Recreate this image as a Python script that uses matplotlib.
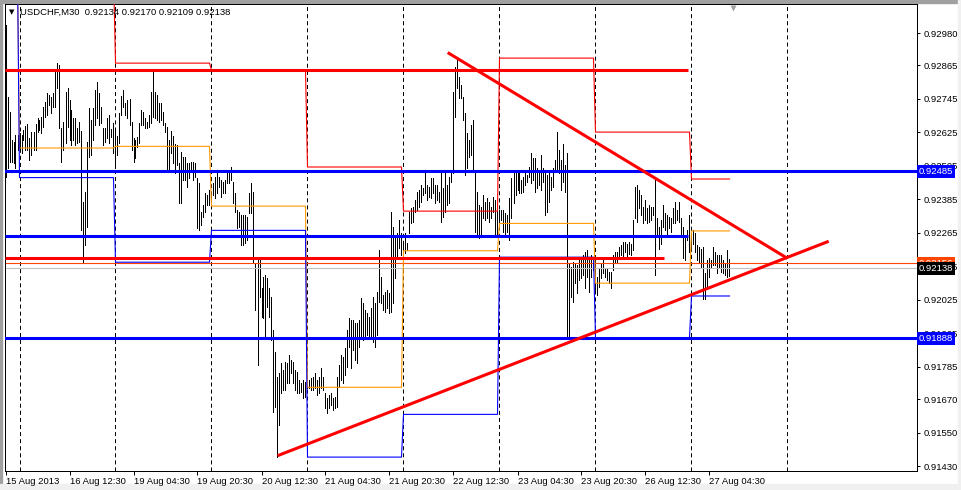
import numpy as np
import pandas as pd
import matplotlib
matplotlib.use("Agg")
from matplotlib import pyplot as plt
from matplotlib.patches import Rectangle

plt.rcParams['font.family'] = ['Liberation Sans', 'DejaVu Sans']
plt.rcParams['lines.scale_dashes'] = False

symbol = "USDCHF,M30"
last_ohlc = [0.92134, 0.92170, 0.92109, 0.92138]

# trading days shown and number of M30 bars in each
day_dates = ["2013-08-15", "2013-08-16", "2013-08-19", "2013-08-20", "2013-08-21",
             "2013-08-22", "2013-08-23", "2013-08-26", "2013-08-27"]
bars_per_day = [7, 48, 48, 48, 48, 48, 48, 48, 20]
first_bar = "2013-08-15 20:30"

# bar highs / lows in points (1e-5)
highs_pts = [
    93010, 92753, 92699, 92598, 92592, 92616, 92616, 92622, 92616, 92633,
    92648, 92655, 92604, 92627, 92627, 92655, 92675, 92669, 92681, 92717,
    92735, 92765, 92759, 92753, 92765, 92842, 92872, 92866, 92639, 92663,
    92771, 92783, 92741, 92705, 92675, 92675, 92639, 92663, 92630, 92377,
    92413, 92592, 92711, 92669, 92711, 92777, 92807, 92765, 92717, 92639,
    92639, 92675, 92687, 92636, 92657, 92633, 92612, 92693, 92755, 92777,
    92729, 92741, 92743, 92663, 92604, 92598, 92610, 92660, 92705, 92699,
    92675, 92663, 92687, 92771, 92842, 92771, 92759, 92729, 92729, 92699,
    92657, 92645, 92598, 92631, 92612, 92583, 92580, 92514, 92556, 92538,
    92538, 92514, 92514, 92520, 92520, 92514, 92461, 92443, 92341, 92365,
    92407, 92401, 92419, 92413, 92443, 92466, 92478, 92466, 92455, 92449,
    92455, 92478, 92490, 92502, 92449, 92407, 92347, 92341, 92329, 92329,
    92329, 92323, 92407, 92443, 92413, 92156, 92174, 92174, 92067, 92108,
    92114, 92102, 92067, 92037, 91917, 91840, 91750, 91762, 91798, 91774,
    91804, 91798, 91828, 91810, 91804, 91774, 91768, 91738, 91726, 91738,
    91732, 91750, 91738, 91744, 91750, 91762, 91738, 91750, 91780, 91750,
    91690, 91672, 91684, 91690, 91672, 91678, 91750, 91792, 91828, 91822,
    91852, 91917, 91959, 91953, 91953, 91941, 91941, 91953, 92031, 92013,
    91989, 91977, 91965, 91995, 92037, 92013, 92054, 92204, 92108, 92043,
    92054, 92060, 92049, 92341, 92287, 92251, 92263, 92311, 92263, 92234,
    92263, 92228, 92341, 92353, 92359, 92383, 92413, 92419, 92437, 92425,
    92478, 92437, 92431, 92460, 92460, 92437, 92437, 92413, 92478, 92425,
    92478, 92437, 92466, 92490, 92771, 92860, 92890, 92825, 92795, 92753,
    92693, 92622, 92598, 92651, 92669, 92484, 92413, 92365, 92359, 92401,
    92377, 92389, 92377, 92359, 92395, 92383, 92353, 92347, 92347, 92347,
    92335, 92329, 92389, 92460, 92484, 92478, 92484, 92478, 92454, 92466,
    92478, 92472, 92502, 92550, 92532, 92532, 92496, 92484, 92544, 92496,
    92484, 92472, 92478, 92466, 92496, 92526, 92627, 92562, 92526, 92585,
    92508, 92550, 92156, 92144, 92162, 92156, 92150, 92168, 92168, 92185,
    92197, 92203, 92168, 92185, 92156, 92174, 92108, 92138, 92156, 92168,
    92138, 92138, 92126, 92126, 92185, 92197, 92197, 92215, 92221, 92233,
    92233, 92227, 92233, 92227, 92311, 92430, 92436, 92418, 92400, 92359,
    92382, 92353, 92365, 92359, 92359, 92454, 92317, 92287, 92311, 92365,
    92335, 92329, 92323, 92317, 92353, 92376, 92347, 92376, 92317, 92287,
    92257, 92275, 92329, 92281, 92275, 92263, 92221, 92215, 92209, 92215,
    92120, 92168, 92174, 92168, 92215, 92197, 92185, 92185, 92185, 92168,
    92156, 92203, 92170,
]
lows_pts = [
    92465, 92496, 92520, 92520, 92514, 92496, 92562, 92562, 92550, 92598,
    92562, 92562, 92526, 92544, 92562, 92562, 92627, 92633, 92621, 92645,
    92681, 92687, 92723, 92693, 92717, 92717, 92783, 92639, 92520, 92562,
    92586, 92645, 92598, 92580, 92598, 92580, 92586, 92592, 92275, 92156,
    92222, 92287, 92538, 92544, 92598, 92651, 92675, 92651, 92657, 92580,
    92592, 92604, 92586, 92610, 92550, 92496, 92544, 92586, 92687, 92717,
    92687, 92675, 92651, 92562, 92520, 92532, 92574, 92586, 92651, 92651,
    92639, 92639, 92645, 92657, 92681, 92675, 92669, 92663, 92669, 92651,
    92627, 92484, 92484, 92550, 92514, 92478, 92508, 92371, 92371, 92454,
    92454, 92430, 92460, 92485, 92455, 92466, 92281, 92275, 92293, 92323,
    92341, 92365, 92365, 92365, 92401, 92389, 92407, 92431, 92395, 92407,
    92407, 92443, 92443, 92455, 92371, 92341, 92281, 92287, 92222, 92222,
    92228, 92240, 92335, 92335, 92156, 91989, 91792, 92037, 91965, 91959,
    91893, 92001, 91965, 91881, 91625, 91643, 91464, 91577, 91690, 91702,
    91702, 91726, 91726, 91762, 91726, 91702, 91690, 91690, 91696, 91672,
    91678, 91708, 91708, 91702, 91702, 91708, 91684, 91690, 91708, 91702,
    91637, 91619, 91637, 91649, 91631, 91637, 91643, 91714, 91738, 91726,
    91756, 91786, 91858, 91780, 91846, 91810, 91798, 91858, 91887, 91881,
    91893, 91899, 91893, 91887, 91875, 91857, 91899, 92019, 92013, 91989,
    91983, 91995, 91977, 91983, 92013, 92102, 92174, 92210, 92186, 92178,
    92192, 92204, 92263, 92299, 92305, 92341, 92347, 92359, 92377, 92401,
    92407, 92383, 92395, 92389, 92407, 92371, 92383, 92377, 92305, 92323,
    92341, 92365, 92371, 92448, 92478, 92681, 92783, 92747, 92747, 92669,
    92472, 92496, 92538, 92544, 92484, 92269, 92251, 92245, 92251, 92317,
    92311, 92317, 92305, 92317, 92341, 92257, 92257, 92293, 92311, 92269,
    92257, 92269, 92240, 92317, 92371, 92401, 92419, 92407, 92407, 92413,
    92437, 92448, 92466, 92443, 92454, 92413, 92425, 92437, 92419, 92448,
    92329, 92341, 92377, 92418, 92430, 92484, 92490, 92478, 92418, 92448,
    92412, 91893, 91887, 92036, 92018, 92084, 92048, 92096, 92102, 92114,
    92066, 92108, 92054, 92108, 92132, 92048, 92042, 92072, 92102, 92120,
    92108, 92096, 92084, 92066, 92132, 92156, 92162, 92179, 92185, 92179,
    92197, 92174, 92191, 92185, 92203, 92317, 92305, 92353, 92329, 92299,
    92311, 92299, 92305, 92311, 92329, 92114, 92251, 92209, 92227, 92287,
    92275, 92257, 92281, 92269, 92299, 92299, 92311, 92305, 92257, 92174,
    92168, 92239, 92197, 92215, 92227, 92197, 92168, 92162, 92138, 92030,
    92030, 92066, 92108, 92144, 92150, 92150, 92120, 92144, 92126, 92120,
    92114, 92108, 92109,
]

# previous-day high / close / low indicator, one value per day (points)
prev_high_pts = [93200, 93200, 92873, 92848, 92501, 92343, 92891, 92626, 92458]
prev_close_pts = [93200, 92569, 92575, 92361, 91712, 92201, 92299, 92085, 92272]
prev_low_pts = [93200, 92463, 92160, 92274, 91462, 91615, 92178, 91890, 92039]

# drawn objects
hline_blue = [0.92485, 0.91888]
seg_levels = [0.92848, 0.92255, 0.92176]
seg_end_bar = [341.25, 341.25, 329.25]
seg_colors = ["#ff0000", "#0000ff", "#ff0000"]
ask_level = 0.92156
bid_level = 0.92138
trend_up_x, trend_up_y = [136.75, 410.9], [0.91469, 0.92233]
trend_dn_x, trend_dn_y = [221.75, 390.25], [0.92908, 0.92177]

ytick_vals = [0.92980, 0.92865, 0.92745, 0.92625, 0.92505, 0.92385, 0.92265,
              0.92145, 0.92025, 0.91905, 0.91785, 0.91670, 0.91550, 0.91430]

highs = np.array(highs_pts) / 1e5
lows = np.array(lows_pts) / 1e5
n = len(highs)
x = np.arange(n)

times = []
for k, (d, cnt) in enumerate(zip(day_dates, bars_per_day)):
    start = pd.Timestamp(first_bar) if k == 0 else pd.Timestamp(d)
    times.extend(pd.date_range(start, periods=cnt, freq="30min"))
times = pd.DatetimeIndex(times)
day_idx = np.repeat(np.arange(len(bars_per_day)), bars_per_day)
seps = list(np.cumsum(bars_per_day)[:-1])
seps.append(seps[-1] + 48)

W, H = 962, 490
fig = plt.figure(figsize=(W / 100, H / 100), dpi=100)
ax = fig.add_axes([4.5 / W, 1 - 470.5 / H, 913 / W, 466 / H])
ax.set_xlim(-0.5, 456)
ax.set_ylim(0.91414, 0.93083)

for s in seps:
    ax.axvline(s, color="black", lw=0.72, dashes=(2.9, 2.2), zorder=1)

ax.vlines(x, lows, highs, color="black", lw=0.72, zorder=2, antialiased=False)

ax.plot(x, np.array(prev_high_pts)[day_idx] / 1e5, color="#ff0000", lw=0.8, zorder=3)
ax.plot(x, np.array(prev_close_pts)[day_idx] / 1e5, color="#ff9900", lw=0.8, zorder=3)
ax.plot(x, np.array(prev_low_pts)[day_idx] / 1e5, color="#0000ff", lw=0.8, zorder=3)

ax.axhline(bid_level, color="#c0c0c0", lw=0.8, zorder=2.5)
ax.axhline(ask_level, color="#ff4500", lw=0.8, zorder=2.5)
for lv in hline_blue:
    ax.axhline(lv, color="#0000ff", lw=2.2, zorder=4)
for lv, xe, c in zip(seg_levels, seg_end_bar, seg_colors):
    ax.plot([-0.5, xe], [lv, lv], color=c, lw=2.2, zorder=4, solid_capstyle="butt")
ax.plot(trend_up_x, trend_up_y, color="#ff0000", lw=2.2, zorder=4)
ax.plot(trend_dn_x, trend_dn_y, color="#ff0000", lw=2.2, zorder=4)

# axes cosmetics
for sp in ax.spines.values():
    sp.set_linewidth(0.72)
ax.yaxis.tick_right()
ax.set_yticks(ytick_vals)
ax.set_yticklabels([f"{v:.5f}" for v in ytick_vals])
ax.tick_params(axis="y", direction="out", length=2.2, width=0.72, pad=2.2, labelsize=6.8)
tick_pos = list(range(0, n, 32))
tick_lab = [times[p].strftime("%d %b %H:%M") for p in tick_pos]
tick_lab[0] = times[0].strftime("%d %b %Y")
ax.set_xticks(tick_pos)
ax.set_xticklabels(tick_lab, ha="left")
ax.tick_params(axis="x", direction="out", length=2.9, width=0.72, pad=1.5, labelsize=6.8)

def price_tag(val, fc, z):
    ax.annotate(f"{val:.5f}", xy=(1, val), xycoords=("axes fraction", "data"),
                xytext=(1.0, 0), textcoords="offset points", ha="left", va="center",
                fontsize=6.8, color="white", annotation_clip=False, zorder=z,
                bbox=dict(boxstyle="square,pad=0.2", fc=fc, ec="none"))

for lv in hline_blue:
    price_tag(lv, "#0000ff", 6)
price_tag(ask_level, "#ff4500", 6)
price_tag(bid_level, "#000000", 7)

# chart shift marker
ax.plot([n + 1], [0.9935], marker="v", ms=5, color="#a0a0a0", mec="none",
        transform=ax.get_xaxis_transform(), clip_on=False, zorder=5)

# header
fig.text(12 / W, 1 - 12.5 / H, "▼", fontsize=5, family="DejaVu Sans", va="center", ha="center")
fig.text(20 / W, 1 - 12.5 / H, symbol + "  " + " ".join(f"{v:.5f}" for v in last_ohlc),
         fontsize=6.8, va="center", ha="left")

# window border
fig.add_artist(Rectangle((0, 1 - 3 / H), 1, 3 / H, transform=fig.transFigure, color="#a0a0a0", zorder=0))
fig.add_artist(Rectangle((0, 0), 2 / W, 1, transform=fig.transFigure, color="#a0a0a0", zorder=0))
fig.add_artist(Rectangle((0, 0), 1, 6 / H, transform=fig.transFigure, color="#f0f0f0", zorder=0))
fig.add_artist(Rectangle((1 - 4 / W, 0), 4 / W, 1, transform=fig.transFigure, color="#f0f0f0", zorder=0))

fig.savefig("out.png", dpi=100)
